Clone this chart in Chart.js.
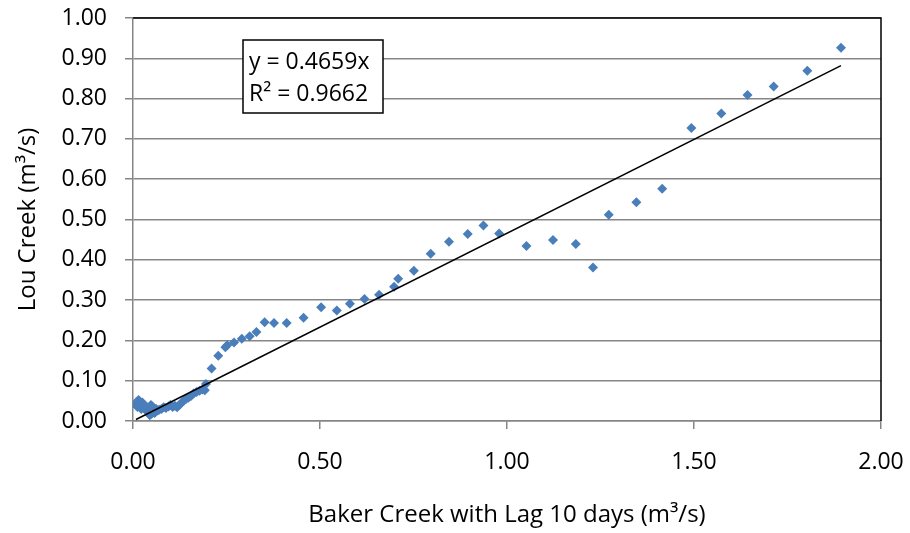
<!DOCTYPE html>
<html>
<head>
<meta charset="utf-8">
<script src="https://cdn.jsdelivr.net/npm/chart.js@4"></script>
<style>
  html, body { margin: 0; padding: 0; background: #fff; }
  #wrap { width: 910px; height: 533px; }
</style>
</head>
<body>
<div id="wrap"><canvas id="scatter"></canvas></div>
<script>
// Baker Creek (lag 10 days) vs Lou Creek flows, m3/s
const bakerFlow = [
  0.008, 0.010, 0.012, 0.015, 0.018, 0.020, 0.022, 0.025, 0.028, 0.032,
  0.035, 0.038, 0.042, 0.045, 0.048, 0.050, 0.052, 0.055, 0.058, 0.062,
  0.066, 0.070, 0.076, 0.082, 0.088, 0.095, 0.100, 0.106, 0.112, 0.118,
  0.124, 0.130, 0.136, 0.142, 0.148, 0.155, 0.162, 0.170, 0.178, 0.186,
  0.192, 0.195, 0.210, 0.228, 0.247, 0.252, 0.270, 0.291, 0.312, 0.330,
  0.352, 0.377, 0.411, 0.456, 0.503, 0.545, 0.580, 0.619, 0.658, 0.698,
  0.709, 0.751, 0.796, 0.845, 0.895, 0.937, 0.979, 1.052, 1.123, 1.184,
  1.230, 1.272, 1.346, 1.415, 1.493, 1.573, 1.643, 1.713, 1.803, 1.893
];
const louFlow = [
  0.040, 0.048, 0.035, 0.052, 0.044, 0.038, 0.030, 0.046, 0.036, 0.030,
  0.026, 0.034, 0.022, 0.014, 0.040, 0.018, 0.036, 0.024, 0.020, 0.030,
  0.026, 0.028, 0.030, 0.034, 0.032, 0.036, 0.040, 0.035, 0.038, 0.034,
  0.040, 0.046, 0.050, 0.055, 0.058, 0.062, 0.068, 0.072, 0.075, 0.078,
  0.076, 0.092, 0.130, 0.162, 0.183, 0.188, 0.195, 0.204, 0.210, 0.221,
  0.245, 0.243, 0.243, 0.256, 0.282, 0.274, 0.291, 0.303, 0.313, 0.333,
  0.353, 0.373, 0.415, 0.445, 0.464, 0.485, 0.465, 0.434, 0.449, 0.439,
  0.381, 0.512, 0.543, 0.576, 0.727, 0.763, 0.809, 0.830, 0.869, 0.926
];

// linear fit through origin, as reported on the chart
const trendSlope = 0.4659;
const trendLabel = ['y = 0.4659x', 'R\u00b2 = 0.9662'];

const xTitle = 'Baker Creek with Lag 10 days (m\u00b3/s)';
const yTitle = 'Lou Creek (m\u00b3/s)';

const FONT = "'Open Sans', sans-serif";
const GRID = '#868686';

const points = bakerFlow.map((x, i) => ({ x: x, y: louFlow[i] }));
const xMin = Math.min(...bakerFlow);
const xMax = Math.max(...bakerFlow);
const trendPoints = [
  { x: xMin, y: trendSlope * xMin },
  { x: xMax, y: trendSlope * xMax }
];

// black frame on top/right plus the equation box
const framePlugin = {
  id: 'frame',
  afterDraw(chart) {
    const { ctx, chartArea: a } = chart;
    ctx.save();
    ctx.strokeStyle = '#000';
    ctx.lineWidth = 1.5;
    ctx.beginPath();
    ctx.moveTo(a.left, a.top);
    ctx.lineTo(a.right, a.top);
    ctx.lineTo(a.right, a.bottom);
    ctx.stroke();

    // equation box
    const bx = 243, by = 40, bw = 140, bh = 73;
    ctx.fillStyle = '#fff';
    ctx.fillRect(bx, by, bw, bh);
    ctx.lineWidth = 1.5;
    ctx.strokeRect(bx, by, bw, bh);
    ctx.fillStyle = '#000';
    ctx.font = '23px ' + FONT;
    ctx.textBaseline = 'middle';
    ctx.textAlign = 'left';
    ctx.fillText(trendLabel[0], bx + 6, by + 22);
    ctx.fillText(trendLabel[1], bx + 6, by + 54);
    ctx.restore();
  }
};

new Chart(document.getElementById('scatter'), {
  type: 'scatter',
  data: {
    datasets: [
      {
        label: 'Lou Creek',
        data: points,
        pointStyle: 'rectRot',
        pointRadius: 5,
        pointBackgroundColor: '#4a7ebb',
        pointBorderColor: '#4a7ebb',
        pointBorderWidth: 0,
        order: 2
      },
      {
        label: 'Linear',
        type: 'line',
        data: trendPoints,
        borderColor: '#000',
        borderWidth: 1.5,
        pointRadius: 0,
        fill: false,
        order: 1
      }
    ]
  },
  options: {
    responsive: true,
    maintainAspectRatio: false,
    animation: false,
    layout: { padding: { top: 18, right: 29, bottom: 0, left: 0 } },
    plugins: {
      legend: { display: false },
      tooltip: { enabled: false }
    },
    scales: {
      x: {
        type: 'linear',
        min: 0,
        max: 2,
        afterFit(scale) {
          scale.height = 112;
          scale.paddingLeft = 0;
          scale.paddingRight = 0;
        },
        ticks: {
          stepSize: 0.5,
          color: '#000',
          padding: 20,
          font: { family: FONT, size: 23 },
          callback: v => v.toFixed(2)
        },
        grid: {
          drawOnChartArea: false,
          drawTicks: true,
          tickLength: 8,
          color: GRID,
          lineWidth: 1.5
        },
        border: { color: GRID, width: 1.5 },
        title: {
          display: true,
          text: xTitle,
          color: '#000',
          font: { family: FONT, size: 24 },
          padding: { top: 0, bottom: 3 }
        }
      },
      y: {
        type: 'linear',
        min: 0,
        max: 1,
        afterFit(scale) {
          scale.width = 133;
          scale.paddingTop = 0;
          scale.paddingBottom = 0;
        },
        ticks: {
          stepSize: 0.1,
          color: '#000',
          padding: 18,
          font: { family: FONT, size: 23 },
          callback: v => v.toFixed(2)
        },
        grid: {
          color: GRID,
          lineWidth: 1.5,
          tickLength: 8
        },
        border: { color: GRID, width: 1.5 },
        title: {
          display: true,
          text: yTitle,
          color: '#000',
          font: { family: FONT, size: 24 },
          padding: { top: 14, bottom: 0 }
        }
      }
    }
  },
  plugins: [framePlugin]
});
</script>
</body>
</html>
